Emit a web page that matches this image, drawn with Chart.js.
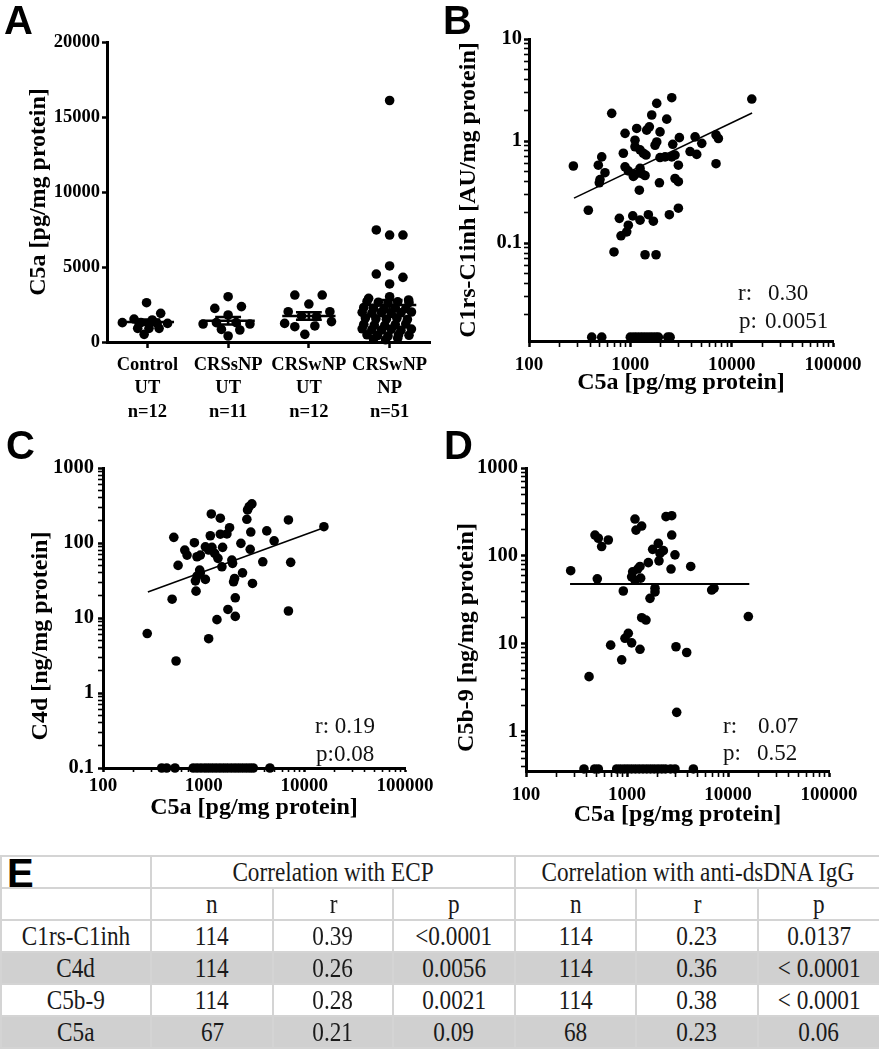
<!DOCTYPE html>
<html><head><meta charset="utf-8">
<script src="https://cdn.jsdelivr.net/npm/chart.js@4.4.1/dist/chart.umd.min.js"></script>
<style>
body{margin:0;background:#fff;width:879px;height:1050px;position:relative;overflow:hidden;font-family:"Liberation Serif","Times New Roman",serif;}
canvas{position:absolute;}
.lbl{position:absolute;font-family:"Liberation Sans",Arial,sans-serif;font-weight:bold;font-size:40px;line-height:40px;color:#000;}
.ann{position:absolute;font-family:"Liberation Serif",serif;font-size:23px;line-height:23px;color:#111;white-space:pre;}
#tbl{position:absolute;left:0;top:855px;width:879px;border-collapse:collapse;table-layout:fixed;font-family:"Liberation Serif",serif;font-size:27px;color:#1a1a1a;}
#tbl td{border:2px solid #d4d4d4;height:30px;padding:0;text-align:center;vertical-align:middle;line-height:28px;overflow:hidden;white-space:nowrap;}
#tbl td span{display:inline-block;transform:scaleX(0.86);}
#tbl tr.g td{background:#d0d0d0;}
#E{position:absolute;left:7px;top:853px;font-family:"Liberation Sans",Arial,sans-serif;font-weight:bold;font-size:40px;line-height:40px;color:#000;}
</style></head>
<body>
<canvas id="cA"></canvas><canvas id="cB"></canvas><canvas id="cC"></canvas><canvas id="cD"></canvas>
<div class="lbl" style="left:4px;top:0px">A</div>
<div class="lbl" style="left:443px;top:0px">B</div>
<div class="lbl" style="left:6px;top:425px">C</div>
<div class="lbl" style="left:444px;top:425px">D</div>
<div class="ann" style="left:738px;top:281px">r:</div><div class="ann" style="left:768px;top:281px">0.30</div>
<div class="ann" style="left:739px;top:309px">p:</div><div class="ann" style="left:765px;top:309px">0.0051</div>
<div class="ann" style="left:315px;top:714px">r: 0.19</div>
<div class="ann" style="left:316px;top:742px">p:0.08</div>
<div class="ann" style="left:723px;top:714px">r:</div><div class="ann" style="left:758px;top:714px">0.07</div>
<div class="ann" style="left:723px;top:741px">p:</div><div class="ann" style="left:757px;top:741px">0.52</div>
<table id="tbl"><colgroup><col style="width:150px"><col style="width:122px"><col style="width:120px"><col style="width:122px"><col style="width:121px"><col style="width:122px"><col style="width:122px"></colgroup><tbody id="tb"></tbody></table>
<div id="E">E</div>
<script>
// ---------- Panel A data ----------
const groupLabels = [["Control","UT","n=12"],["CRSsNP","UT","n=11"],["CRSwNP","UT","n=12"],["CRSwNP","NP","n=51"]];
const aTickPos = [1, 2, 3, 4];
const aYTicks = [0, 5000, 10000, 15000, 20000];
const ctrlX = [0.99, 1.165, 0.835, 1.06, 0.69, 0.92, 1.25, 1.12, 0.88, 1.02, 1.145, 0.96];
const ctrlY = [2620, 1910, 1530, 1470, 1290, 1290, 1240, 1240, 910, 910, 910, 510];
const snpX = [2.0, 1.835, 2.165, 2.0, 1.69, 1.855, 2.10, 2.27, 1.917, 2.145, 2.0];
const snpY = [3020, 2240, 2360, 1800, 1200, 1290, 1290, 1200, 840, 800, 400];
const wnpX = [2.826, 3.165, 3.0, 2.744, 3.26, 2.909, 3.095, 2.70, 3.28, 3.074, 2.826, 2.95];
const wnpY = [3130, 3130, 2530, 2020, 2020, 1730, 1690, 1240, 1360, 1070, 1020, 510];
const npX = [4.0, 3.835, 4.0, 4.165, 4.0, 3.835, 4.165, 4.0, 4.0, 3.74, 4.235,
  3.72, 3.86, 3.98, 4.10, 4.24,
  3.68, 3.80, 3.93, 4.07, 4.20,
  3.66, 3.78, 3.90, 4.02, 4.14, 4.27,
  3.70, 3.83, 3.96, 4.09, 4.22,
  3.68, 3.81, 3.94, 4.07, 4.20,
  3.66, 3.78, 3.90, 4.02, 4.14, 4.27,
  3.72, 3.85, 3.98, 4.11, 4.24,
  3.80, 3.95, 4.10];
const npY = [16100, 7470, 7130, 7130, 5070, 4530, 4310, 3870, 3020, 2910, 2800,
  2700, 2650, 2600, 2680, 2620,
  2300, 2250, 2200, 2280, 2230,
  1980, 1920, 1960, 1900, 1940, 2000,
  1600, 1550, 1520, 1580, 1500,
  1180, 1130, 1100, 1160, 1200,
  880, 820, 800, 850, 780, 860,
  480, 430, 400, 470, 450,
  200, 150, 250];
const aMean = [1330, 1420, 1730, 2470];
const aSem = [170, 250, 250, 320];

// ---------- Panel B data ----------
const bX = [274, 385, 655, 522, 483, 562, 502, 494, 853, 887, 887, 955, 1071, 1112, 1112, 1156, 1247, 1344, 1429, 1247, 1112, 1295, 1397, 1227, 1450, 1540, 1626, 1822, 2563, 2287, 1964, 1822, 1754, 1964, 2203, 2563, 2762, 2622, 3048, 2979, 2762, 2979, 1937, 3885, 4355, 4520, 5070, 7010, 7390, 7010, 15800, 2979, 2427, 1506, 1687, 1247, 1057, 779, 955, 921, 809, 690, 1397, 1794];
const bY = [0.57, 0.21, 1.87, 0.70, 0.58, 0.49, 0.42, 0.39, 0.76, 1.19, 0.56, 0.51, 0.45, 1.02, 0.88, 1.33, 0.82, 0.76, 0.73, 0.54, 0.47, 0.48, 0.46, 0.33, 1.28, 1.38, 1.80, 2.34, 2.66, 1.64, 1.23, 0.98, 0.91, 0.69, 0.70, 0.70, 0.73, 0.93, 1.08, 0.58, 0.43, 0.40, 0.39, 0.79, 1.10, 0.74, 0.95, 1.15, 1.06, 0.60, 2.58, 0.22, 0.19, 0.19, 0.164, 0.168, 0.185, 0.175, 0.15, 0.129, 0.118, 0.082, 0.077, 0.077];
const bLowX = [416, 522, 1000, 1080, 1160, 1250, 1340, 1440, 1550, 1660, 1780, 1890, 2340, 2470];
const bLowY = 0.012;
const bLineX = [278, 15900];
const bLineY = [0.276, 1.88];

// ---------- Panel C data ----------
const cX = [275, 532, 486, 557, 505, 649, 684, 809, 859, 927, 1040, 1121, 1208, 1164, 1191, 1463, 1387, 1518, 1542, 1463, 1702, 1808, 913, 859, 828, 1040, 840, 927, 1906, 1937, 2344, 2432, 2900, 2938, 2685, 2728, 2832, 3013, 2028, 1982, 2061, 1742, 2061, 1355, 1121, 3055, 3866, 4236, 5012, 6950, 7320, 6950, 15650, 1285];
const cY = [6.2, 2.67, 17.8, 50.3, 119, 80.5, 69, 101, 65.6, 69, 89, 80.5, 87.5, 125, 244, 214, 62.4, 48.2, 87.5, 131, 132, 160, 43.5, 36.2, 31.3, 32.7, 22.8, 40, 59.3, 53.5, 99, 40, 82.4, 140, 207, 276, 306, 332, 33.7, 30.4, 18.6, 13, 10.5, 9.5, 5.3, 28.9, 56.2, 145, 107, 203, 55.2, 12.4, 165, 72.8];
const cLowX = [383, 429, 519, 788, 860, 940, 1030, 1120, 1220, 1330, 1450, 1580, 1720, 1880, 2050, 2230, 2430, 2650, 2880, 3110, 4550];
const cLowY = 0.1;
const cLineX = [279, 16100];
const cLineY = [22.3, 162];

// ---------- Panel D data ----------
const dX = [277, 508, 482, 520, 561, 653, 919, 1138, 1112, 1200, 1365, 1345, 1626, 1200, 1228, 1397, 1795, 2041, 2123, 2291, 2074, 2432, 2773, 2773, 2985, 2728, 4275, 1893, 1893, 1690, 6890, 7270, 15900, 1397, 1542, 1030, 955, 1112, 689, 1345, 886, 3055, 3900, 421, 1276, 3105];
const dY = [68, 55, 173, 159, 128, 152, 40, 66, 58, 53, 56, 76, 84, 263, 197, 219, 119, 139, 107, 115, 88, 280, 287, 173, 103, 71, 76, 43, 39, 33, 41, 43, 20.5, 19.9, 18.7, 13.2, 11.6, 10.3, 9.7, 8.7, 6.6, 9.3, 8.0, 4.25, 71, 1.67];
const dLowX = [375, 479, 520, 791, 860, 940, 1020, 1110, 1210, 1320, 1440, 1570, 1710, 1860, 2030, 2210, 2400, 2700, 2985, 4540];
const dLowY = 0.38;
const dLineX = [273, 16250];
const dLineY = [48, 48];

// ---------- tick labels ----------
const xMajor = [100, 1000, 10000, 100000];
const xMajorLabels = ["100", "1000", "10000", "100000"];
const bYMajor = [0.1, 1, 10];
const bYMajorLabels = ["0.1", "1", "10"];
const cYMajor = [0.1, 1, 10, 100, 1000];
const cYMajorLabels = ["0.1", "1", "10", "100", "1000"];
const dYMajor = [1, 10, 100, 1000];
const dYMajorLabels = ["1", "10", "100", "1000"];

// ---------- table data ----------
const tRows = ["C1rs-C1inh", "C4d", "C5b-9", "C5a"];
const ecpN = ["114", "114", "114", "67"];
const ecpR = ["0.39", "0.26", "0.28", "0.21"];
const ecpP = ["<0.0001", "0.0056", "0.0021", "0.09"];
const dsN = ["114", "114", "114", "68"];
const dsR = ["0.23", "0.36", "0.38", "0.23"];
const dsP = ["0.0137", "< 0.0001", "< 0.0001", "0.06"];

// ---------- build table ----------
(function(){
  const tb = document.getElementById('tb');
  const sp = t => '<span>' + t + '</span>';
  let h = '<tr><td></td><td colspan="3">' + sp('Correlation with ECP') + '</td><td colspan="3">' + sp('Correlation with anti-dsDNA IgG') + '</td></tr>';
  h += '<tr><td></td>' + ['n','r','p','n','r','p'].map(t => '<td>' + sp(t) + '</td>').join('') + '</tr>';
  tRows.forEach((r, i) => {
    h += '<tr' + (i % 2 === 1 ? ' class="g"' : '') + '><td>' + sp(r) + '</td>' +
      [ecpN[i], ecpR[i], ecpP[i], dsN[i], dsR[i], dsP[i]].map(t => '<td>' + sp(t.replace('<', '&lt;')) + '</td>').join('') + '</tr>';
  });
  tb.innerHTML = h;
})();

// ---------- chart helpers ----------
const FONT = "'Liberation Serif', 'Times New Roman', serif";
Chart.defaults.font.family = FONT;
Chart.defaults.color = '#000';

const pts = (xs, ys) => xs.map((x, i) => ({x: x, y: Array.isArray(ys) ? ys[i] : ys}));

function logTickValues(min, max) {
  const out = [];
  for (let e = Math.floor(Math.log10(min)) - 1; e <= Math.ceil(Math.log10(max)); e++) {
    for (let k = 1; k < 10; k++) {
      const v = parseFloat((k * Math.pow(10, e)).toPrecision(8));
      if (v >= min * 0.9999 && v <= max * 1.0001) out.push(v);
    }
  }
  return out;
}
const isIn = (arr, v) => arr.findIndex(m => Math.abs(m - v) <= m * 1e-6);

function axis(o) {
  return {
    type: o.type, min: o.min, max: o.max, position: o.pos,
    border: {display: true, color: '#000', width: 3},
    grid: {display: true, drawOnChartArea: false, drawTicks: true, tickLength: o.tl,
      tickColor: '#000', tickWidth: o.tickWidth || 2.5, color: '#000', lineWidth: 1},
    ticks: {autoSkip: false, maxRotation: 0, minRotation: 0, padding: o.pad, color: '#000',
      font: {family: FONT, size: o.fs || 18, weight: 'bold', lineHeight: o.lh || 1.2}, callback: o.cb},
    title: {display: !!o.title, text: o.title || '', color: '#000',
      font: {family: FONT, size: 24, weight: 'bold', lineHeight: 1.2}, padding: 0},
    afterBuildTicks: o.abt,
    afterFit: s => { if (o.pos === 'left') s.width = o.size; else s.height = o.size; }
  };
}

function logAxis(o) {
  const vals = logTickValues(o.min, o.max);
  return axis(Object.assign({}, o, {
    type: 'logarithmic',
    abt: s => { s.ticks = vals.map(v => ({value: v})); },
    cb: v => { const i = isIn(o.majors, v); return i >= 0 ? o.labels[i] : ''; },
    tickWidth: ctx => (ctx.tick && isIn(o.majors, ctx.tick.value) >= 0) ? 2.5 : 1.6
  }));
}

function makeChart(id, pos, padding, datasets, scales) {
  const c = document.getElementById(id);
  c.width = pos.w; c.height = pos.h;
  c.style.left = pos.x + 'px'; c.style.top = pos.y + 'px';
  c.style.width = pos.w + 'px'; c.style.height = pos.h + 'px';
  return new Chart(c, {
    type: 'scatter',
    data: {datasets: datasets},
    options: {
      responsive: false, maintainAspectRatio: false, animation: false, devicePixelRatio: 1,
      events: [], layout: {padding: padding},
      plugins: {legend: {display: false}, tooltip: {enabled: false}},
      scales: scales
    }
  });
}

const dotStyle = {pointRadius: 4.8, pointBackgroundColor: '#000', pointBorderWidth: 0, backgroundColor: '#000', borderWidth: 0, clip: false, order: 2};
const lineStyle = (w) => ({showLine: true, pointRadius: 0, borderColor: '#000', borderWidth: w, clip: false, order: 0, spanGaps: false});

// ---------- Panel A ----------
function meanSem(c, m, s) {
  return [
    {x: c - 0.33, y: m}, {x: c + 0.33, y: m}, {x: c, y: null},
    {x: c - 0.16, y: m + s}, {x: c + 0.16, y: m + s}, {x: c, y: null},
    {x: c, y: m + s}, {x: c, y: m - s}, {x: c, y: null},
    {x: c - 0.16, y: m - s}, {x: c + 0.16, y: m - s}
  ];
}
const aGroupsX = [ctrlX, snpX, wnpX, npX];
const aGroupsY = [ctrlY, snpY, wnpY, npY];
const aSets = [];
aTickPos.forEach((c, i) => {
  aSets.push(Object.assign({data: meanSem(c, aMean[i], aSem[i])}, lineStyle(2.6)));
  aSets.push(Object.assign({data: pts(aGroupsX[i], aGroupsY[i])}, dotStyle));
});
makeChart('cA', {x: 0, y: 0, w: 440, h: 420}, {left: 24.6, top: 42, right: 10, bottom: 0}, aSets, {
  x: axis({type: 'linear', min: 0.5, max: 4.5, pos: 'bottom', tl: 6, pad: 5, lh: 1.28, fs: 18.5, size: 78,
    abt: s => { s.ticks = aTickPos.map(v => ({value: v})); },
    cb: v => groupLabels[Math.round(v) - 1] || ''}),
  y: axis({type: 'linear', min: 0, max: 20000, pos: 'left', tl: 5, pad: 2, fs: 18.5, size: 82.4,
    title: 'C5a [pg/mg protein]',
    abt: s => { s.ticks = aYTicks.map(v => ({value: v})); },
    cb: v => String(v)})
});

// ---------- Panel B ----------
makeChart('cB', {x: 440, y: 0, w: 439, h: 420}, {left: 14.6, top: 39, right: 46, bottom: 22.6}, [
  Object.assign({data: pts(bLineX, bLineY)}, lineStyle(1.6)),
  Object.assign({data: pts(bX, bY)}, dotStyle),
  Object.assign({data: pts(bLowX, bLowY)}, dotStyle)
], {
  x: logAxis({min: 100, max: 100000, pos: 'bottom', tl: 6, pad: 7, fs: 19, size: 56.4, majors: xMajor, labels: xMajorLabels,
    title: 'C5a [pg/mg protein]'}),
  y: logAxis({min: 0.011, max: 10, pos: 'left', tl: 5, pad: 2, fs: 20.5, size: 74.4, majors: bYMajor, labels: bYMajorLabels,
    title: 'C1rs-C1inh [AU/mg protein]'})
});

// ---------- Panel C ----------
makeChart('cC', {x: 0, y: 420, w: 440, h: 410}, {left: 26.6, top: 48, right: 35, bottom: 7.6}, [
  Object.assign({data: pts(cLineX, cLineY)}, lineStyle(1.6)),
  Object.assign({data: pts(cX, cY)}, dotStyle),
  Object.assign({data: pts(cLowX, cLowY)}, dotStyle)
], {
  x: logAxis({min: 100, max: 100000, pos: 'bottom', tl: 4, pad: 3, fs: 19, size: 54.4, majors: xMajor, labels: xMajorLabels,
    title: 'C5a [pg/mg protein]'}),
  y: logAxis({min: 0.1, max: 1000, pos: 'left', tl: 5, pad: 4, fs: 20.5, size: 76.4, majors: cYMajor, labels: cYMajorLabels,
    title: 'C4d [ng/mg protein]      '})
});

// ---------- Panel D ----------
makeChart('cD', {x: 440, y: 420, w: 439, h: 410}, {left: 12.6, top: 48, right: 50, bottom: 0.6}, [
  Object.assign({data: pts(dLineX, dLineY)}, lineStyle(2)),
  Object.assign({data: pts(dX, dY)}, dotStyle),
  Object.assign({data: pts(dLowX, dLowY)}, dotStyle)
], {
  x: logAxis({min: 100, max: 100000, pos: 'bottom', tl: 6, pad: 7, fs: 19, size: 58.4, majors: xMajor, labels: xMajorLabels,
    title: 'C5a [pg/mg protein]'}),
  y: logAxis({min: 0.36, max: 1000, pos: 'left', tl: 5, pad: 3, fs: 20.5, size: 73.4, majors: dYMajor, labels: dYMajorLabels,
    title: 'C5b-9 [ng/mg protein]      '})
});
</script>
</body></html>
